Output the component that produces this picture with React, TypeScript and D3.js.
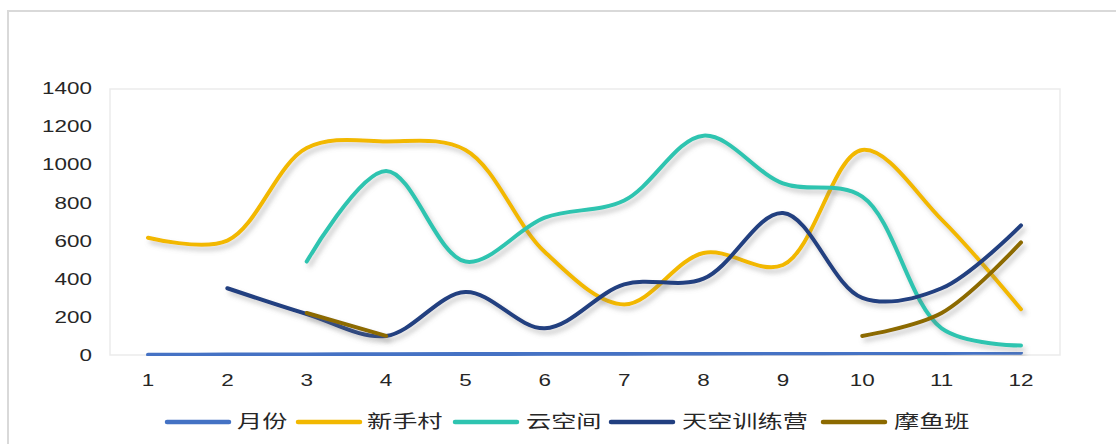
import React, { useEffect, useRef } from "react";
import * as d3 from "d3";

const W = 1116
    , H = 444;

const months = [1, 2, 3, 4, 5, 6, 7, 8, 9, 10, 11, 12];
const yTicks = [0, 200, 400, 600, 800, 1000, 1200, 1400];

const seriesNames = ["月份", "新手村", "云空间", "天空训练营", "摩鱼班"];
const seriesColors = ["#4472C4", "#F2B800", "#2EC4B0", "#213F80", "#8C6A00"];

const monthVals = [1, 2, 3, 4, 5, 6, 7, 8, 9, 10, 11, 12];
const xinshoucun = [615, 600, 1085, 1120, 1075, 540, 265, 535, 472, 1075, 710, 240];
const yunkongjian = [null, null, 490, 965, 490, 720, 810, 1150, 900, 830, 140, 50];
const tiankong = [null, 350, 215, 100, 330, 140, 370, 400, 745, 300, 350, 680];
const moyuban = [null, null, 220, 100, null, null, null, null, null, 100, 220, 590];

const allSeries = [monthVals, xinshoucun, yunkongjian, tiankong, moyuban];

export default function App() {
    const ref = useRef<SVGSVGElement>(null);

    useEffect(() => {
        const svg = d3.select(ref.current);
        svg.selectAll("*").remove();

        const x = d3.scalePoint<number>().domain(months).range([148, 1021]);
        const y = d3.scaleLinear().domain([0, 1400]).range([355, 88]);

        const defs = svg.append("defs");
        defs.append("filter")
            .attr("id", "shadow")
            .attr("x", "-10%").attr("y", "-10%")
            .attr("width", "120%").attr("height", "130%")
            .append("feDropShadow")
            .attr("dx", 3).attr("dy", 4)
            .attr("stdDeviation", 2.5)
            .attr("flood-color", "#777")
            .attr("flood-opacity", 0.4);

        // outer frame
        svg.append("rect")
            .attr("x", 8).attr("y", 11)
            .attr("width", W + 20).attr("height", H + 20)
            .attr("fill", "white")
            .attr("stroke", "#d9d9d9")
            .attr("stroke-width", 2);

        // plot area
        svg.append("rect")
            .attr("x", 110).attr("y", 89)
            .attr("width", 950).attr("height", 266)
            .attr("fill", "white")
            .attr("stroke", "#ebebeb")
            .attr("stroke-width", 1.5);

        const tickFont = "'Liberation Sans', 'Noto Sans CJK SC', sans-serif";

        svg.append("g")
            .selectAll("text")
            .data(yTicks)
            .join("text")
            .attr("transform", d => `translate(92,${y(d)}) scale(1.32,1)`)
            .attr("dy", "0.36em")
            .attr("text-anchor", "end")
            .attr("font-family", tickFont)
            .attr("font-size", 17)
            .attr("fill", "#262626")
            .text(d => d);

        svg.append("g")
            .selectAll("text")
            .data(months)
            .join("text")
            .attr("transform", d => `translate(${x(d)},380) scale(1.32,1)`)
            .attr("dy", "0.36em")
            .attr("text-anchor", "middle")
            .attr("font-family", tickFont)
            .attr("font-size", 17)
            .attr("fill", "#262626")
            .text(d => d);

        const line = d3.line<number | null>()
            .defined(d => d != null)
            .x((d, i) => x(months[i]) as number)
            .y(d => y(d as number))
            .curve(d3.curveCatmullRom.alpha(0.5));

        svg.append("g")
            .attr("fill", "none")
            .attr("stroke-width", 4)
            .attr("stroke-linecap", "round")
            .attr("stroke-linejoin", "round")
            .selectAll("path")
            .data(allSeries)
            .join("path")
            .attr("filter", "url(#shadow)")
            .attr("stroke", (d, i) => seriesColors[i])
            .attr("d", d => line(d as (number | null)[]));

        // legend
        const legendPos = [
            { sx: 167, tx: 237 },
            { sx: 298, tx: 367 },
            { sx: 455, tx: 526 },
            { sx: 611, tx: 682 },
            { sx: 823, tx: 894 },
        ];
        const lg = svg.append("g")
            .selectAll("g")
            .data(seriesNames)
            .join("g");

        lg.append("line")
            .attr("x1", (d, i) => legendPos[i].sx)
            .attr("x2", (d, i) => legendPos[i].sx + 62)
            .attr("y1", 422).attr("y2", 422)
            .attr("stroke", (d, i) => seriesColors[i])
            .attr("stroke-width", 4.5)
            .attr("stroke-linecap", "round");

        lg.append("text")
            .attr("transform", (d, i) => `translate(${legendPos[i].tx},422) scale(1.4,1)`)
            .attr("dy", "0.36em")
            .attr("font-family", "'Noto Sans CJK SC', sans-serif")
            .attr("font-size", 18)
            .attr("fill", "#262626")
            .text(d => d);
    }, []);

    return (
        <svg ref={ref} width={W} height={H}
            style={{ position: "absolute", left: 0, top: 0, background: "white" }} />
    );
}
